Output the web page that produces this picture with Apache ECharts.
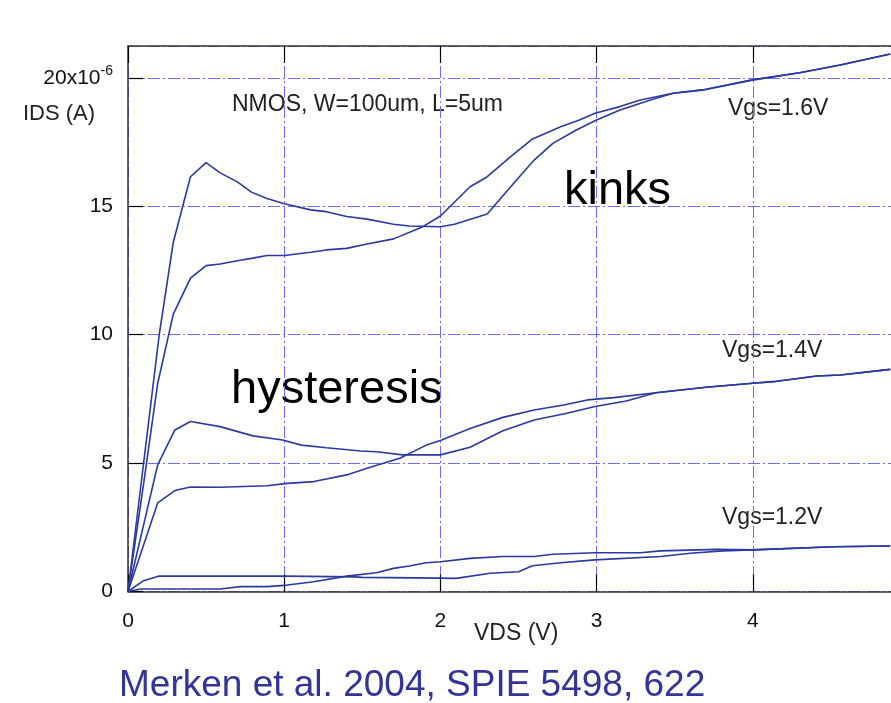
<!DOCTYPE html>
<html>
<head>
<meta charset="utf-8">
<script src="https://cdn.jsdelivr.net/npm/echarts@6/dist/echarts.min.js"></script>
<style>
  html, body { margin: 0; padding: 0; background: #ffffff; }
  #chart { width: 891px; height: 703px; }
</style>
</head>
<body>
<div id="chart"></div>
<script>
// ---- data: [VDS (V), IDS (x1e-6 A)] ----
const vgs16SweepA = [[0,0],[0.2,10.0],[0.29,13.6],[0.4,16.15],[0.5,16.7],[0.59,16.3],[0.7,15.95],[0.79,15.55],[0.89,15.3],[1.0,15.1],[1.17,14.86],[1.27,14.79],[1.4,14.6],[1.53,14.5],[1.7,14.3],[1.8,14.23],[2.0,14.2],[2.09,14.3],[2.3,14.7],[2.45,15.76],[2.6,16.8],[2.72,17.45],[2.87,17.97],[3.0,18.36],[3.15,18.75],[3.36,19.17],[3.49,19.4],[3.68,19.53],[4.0,19.92],[4.3,20.2],[4.56,20.5],[4.88,20.93]];
const vgs16SweepB = [[0,0],[0.1,4.2],[0.19,8.1],[0.29,10.8],[0.4,12.2],[0.5,12.69],[0.59,12.75],[0.7,12.88],[0.79,12.97],[0.89,13.08],[1.0,13.08],[1.17,13.21],[1.27,13.3],[1.4,13.36],[1.53,13.53],[1.7,13.73],[1.88,14.18],[2.0,14.62],[2.19,15.76],[2.3,16.15],[2.45,16.93],[2.59,17.62],[2.77,18.1],[2.89,18.36],[2.99,18.62],[3.15,18.88],[3.28,19.14],[3.49,19.4],[3.68,19.53],[4.0,19.92],[4.3,20.2],[4.56,20.5],[4.88,20.93]];
const vgs14SweepA = [[0,0],[0.19,4.93],[0.3,6.29],[0.4,6.62],[0.59,6.42],[0.8,6.06],[0.99,5.9],[1.11,5.7],[1.27,5.6],[1.49,5.47],[1.59,5.44],[1.76,5.32],[2.0,5.32],[2.19,5.62],[2.4,6.26],[2.6,6.68],[2.81,6.94],[2.99,7.2],[3.19,7.42],[3.38,7.74],[3.7,7.95],[4.0,8.11],[4.13,8.17],[4.41,8.39],[4.56,8.43],[4.88,8.65]];
const vgs14SweepB = [[0,0],[0.19,3.45],[0.3,3.93],[0.4,4.07],[0.59,4.06],[0.89,4.12],[1.02,4.21],[1.19,4.28],[1.4,4.54],[1.53,4.8],[1.74,5.19],[1.91,5.7],[2.0,5.88],[2.19,6.35],[2.4,6.78],[2.6,7.07],[2.79,7.26],[2.94,7.46],[3.11,7.55],[3.38,7.74],[3.7,7.95],[4.0,8.11],[4.13,8.17],[4.41,8.39],[4.56,8.43],[4.88,8.65]];
const vgs12SweepA = [[0,0],[0.1,0.42],[0.2,0.6],[1.0,0.6],[1.45,0.57],[1.5,0.55],[2.0,0.52],[2.1,0.51],[2.32,0.71],[2.5,0.77],[2.59,1.0],[2.77,1.12],[2.99,1.23],[3.41,1.36],[3.6,1.49],[3.81,1.58],[4.0,1.62],[4.52,1.74],[4.88,1.77]];
const vgs12SweepB = [[0,0],[0.08,0.1],[0.59,0.1],[0.72,0.19],[0.89,0.19],[1.02,0.25],[1.19,0.38],[1.4,0.6],[1.59,0.73],[1.7,0.9],[1.8,0.99],[1.91,1.12],[2.0,1.16],[2.19,1.29],[2.4,1.36],[2.6,1.36],[2.72,1.45],[2.99,1.51],[3.28,1.51],[3.41,1.58],[3.77,1.64],[4.0,1.62],[4.52,1.74],[4.88,1.77]];

const xTickLabels = ['0', '1', '2', '3', '4'];
const yTickLabels = { 0: '0', 5: '5', 10: '10', 15: '15', 20: '20x10{sup|-6}' };

const curveLabels = ['Vgs=1.6V', 'Vgs=1.4V', 'Vgs=1.2V'];
const titleText = 'NMOS, W=100um, L=5um';
const xAxisTitle = 'VDS (V)';
const yAxisTitle = 'IDS (A)';
const noteKinks = 'kinks';
const noteHysteresis = 'hysteresis';
const captionText = 'Merken et al. 2004, SPIE 5498, 622';

// ---- styling ----
const FONT = "'Liberation Sans', Arial, sans-serif";
const LINE_COLOR = '#2a3aa0';
const GRID_COLOR = '#6c6cff';
const FRAME_COLOR = '#333333';

const chart = echarts.init(document.getElementById('chart'), null, { renderer: 'canvas' });

const allCurves = [vgs16SweepA, vgs16SweepB, vgs14SweepA, vgs14SweepB, vgs12SweepA, vgs12SweepB];

const option = {
  backgroundColor: '#ffffff',
  animation: false,
  grid: { left: 128, width: 781, top: 46, height: 545.5, containLabel: false, outerBoundsMode: 'none' },
  xAxis: [
    {
      type: 'value', position: 'bottom', min: 0, max: 5, interval: 1,
      axisLine: { show: true, onZero: false, lineStyle: { color: FRAME_COLOR, width: 1.5 } },
      axisTick: { show: true, inside: true, length: 17, lineStyle: { color: '#000', width: 1.2 } },
      axisLabel: {
        show: true, margin: 19, fontSize: 21, fontFamily: FONT, color: '#111',
        formatter: v => (Number.isInteger(v) && v < xTickLabels.length) ? xTickLabels[v] : ''
      },
      splitLine: { show: true, lineStyle: { color: GRID_COLOR, width: 1, type: [12, 3, 2, 3] } }
    },
    {
      type: 'value', position: 'top', min: 0, max: 5, interval: 1,
      axisLine: { show: true, onZero: false, lineStyle: { color: FRAME_COLOR, width: 1.5 } },
      axisTick: { show: true, inside: true, length: 17, lineStyle: { color: '#000', width: 1.2 } },
      axisLabel: { show: false },
      splitLine: { show: false }
    }
  ],
  yAxis: {
    type: 'value', min: 0, max: 21.24, interval: 5,
    axisLine: { show: true, onZero: false, lineStyle: { color: FRAME_COLOR, width: 1.5 } },
    axisTick: { show: true, inside: true, length: 15, lineStyle: { color: '#000', width: 1.2 } },
    axisLabel: {
      show: true, margin: 15, fontSize: 21, fontFamily: FONT, color: '#111',
      showMaxLabel: false,
      formatter: v => (yTickLabels[v] !== undefined ? yTickLabels[v] : ''),
      rich: {
        sup: { fontSize: 14, fontFamily: FONT, color: '#111', padding: [0, 0, 14, 0] }
      }
    },
    splitLine: { show: true, lineStyle: { color: GRID_COLOR, width: 1, type: [12, 3, 2, 3] } }
  },
  series: allCurves.map(c => ({
    type: 'line',
    data: c,
    xAxisIndex: 0,
    showSymbol: false,
    symbol: 'none',
    smooth: false,
    clip: true,
    lineStyle: { color: LINE_COLOR, width: 1.6 },
    z: 5
  })),
  graphic: [
    { type: 'text', left: 232, top: 93, style: { text: titleText, font: '23px ' + FONT, fill: '#222' } },
    { type: 'text', left: 728, top: 97, style: { text: curveLabels[0], font: '23px ' + FONT, fill: '#222' } },
    { type: 'text', left: 722, top: 339, style: { text: curveLabels[1], font: '23px ' + FONT, fill: '#222' } },
    { type: 'text', left: 722, top: 506, style: { text: curveLabels[2], font: '23px ' + FONT, fill: '#222' } },
    { type: 'text', left: 23, top: 103, style: { text: yAxisTitle, font: '22px ' + FONT, fill: '#222' } },
    { type: 'text', left: 474, top: 622, style: { text: xAxisTitle, font: '23px ' + FONT, fill: '#222' } },
    { type: 'text', left: 564, top: 168, style: { text: noteKinks, font: '47px ' + FONT, fill: '#000' } },
    { type: 'text', left: 231, top: 367, style: { text: noteHysteresis, font: '47px ' + FONT, fill: '#000' } },
    { type: 'text', left: 119, top: 667, style: { text: captionText, font: '37px ' + FONT, fill: '#333399' } }
  ]
};

chart.setOption(option);
</script>
</body>
</html>
